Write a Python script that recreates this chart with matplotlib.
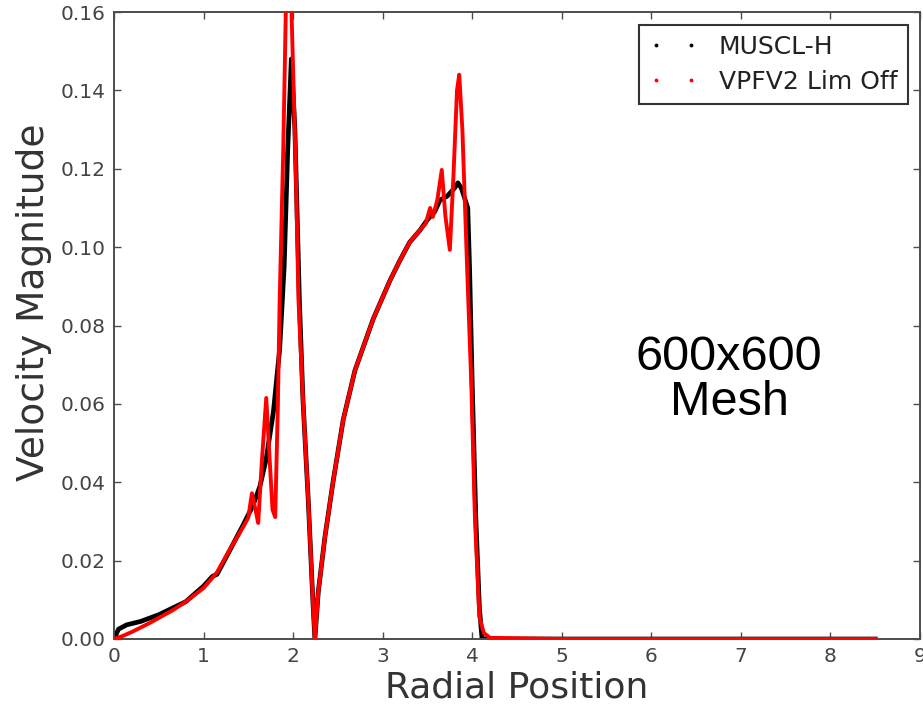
import matplotlib
matplotlib.use("Agg")
import matplotlib.pyplot as plt
from matplotlib.lines import Line2D

# MUSCL-H (black)
muscl_x = [0, 0.05, 0.14, 0.3, 0.5, 0.8, 1.0, 1.1, 1.15, 1.29, 1.44, 1.55, 1.63, 1.70,
           1.78, 1.85, 1.90, 1.94, 1.98, 2.02, 2.07, 2.11, 2.17, 2.22, 2.243, 2.281, 2.355,
           2.448, 2.56, 2.69, 2.895, 3.08, 3.19, 3.30, 3.42, 3.50, 3.58, 3.64, 3.72, 3.80,
           3.84, 3.88, 3.95, 3.97, 4.00, 4.04, 4.08, 4.11, 5.0, 8.5]
muscl_y = [0, 0.0025, 0.0036, 0.0045, 0.0062, 0.0095, 0.0135, 0.016, 0.0165, 0.0225,
           0.029, 0.034, 0.039, 0.046, 0.058, 0.074, 0.095, 0.125, 0.148, 0.13, 0.0865,
           0.061, 0.035, 0.01, 0.0, 0.012, 0.026, 0.0404, 0.056, 0.0685, 0.0817, 0.0914,
           0.0965, 0.1012, 0.1044, 0.107, 0.109, 0.112, 0.113, 0.115, 0.1164, 0.115,
           0.110, 0.095, 0.065, 0.031, 0.008, 0.0, 0.0, 0.0]

# VPFV2 Lim Off (red)
vpfv_x = [0, 0.1, 0.2, 0.4, 0.66, 0.8, 1.0, 1.15, 1.29, 1.44, 1.50, 1.54, 1.58, 1.61,
          1.65, 1.70, 1.74, 1.77, 1.80, 1.83, 1.85, 1.89, 1.92, 1.95, 1.98, 2.03, 2.06,
          2.11, 2.17, 2.22, 2.243, 2.281, 2.355, 2.448, 2.56, 2.69, 2.895, 3.08, 3.19, 3.30,
          3.42, 3.48, 3.53, 3.56, 3.61, 3.66, 3.70, 3.75, 3.79, 3.83, 3.855, 3.89, 3.94,
          3.99, 4.03, 4.08, 4.13, 4.2, 5.0, 8.5]
vpfv_y = [0, 0.0008, 0.0018, 0.0041, 0.0074, 0.0095, 0.013, 0.017, 0.0227, 0.0285, 0.031,
          0.0372, 0.033, 0.0296, 0.045, 0.0615, 0.045, 0.033, 0.0311, 0.06, 0.0865, 0.125,
          0.162, 0.166, 0.162, 0.12, 0.0865, 0.061, 0.035, 0.01, 0.0, 0.012, 0.026, 0.0404,
          0.056, 0.0685, 0.0817, 0.0914, 0.0965, 0.1012, 0.1044, 0.106, 0.110, 0.1077,
          0.112, 0.1197, 0.108, 0.0993, 0.118, 0.14, 0.144, 0.13, 0.0967, 0.065, 0.031,
          0.0056, 0.0015, 0.0003, 0.0, 0.0]

series_labels = ["MUSCL-H", "VPFV2 Lim Off"]
x_ticks = [0, 1, 2, 3, 4, 5, 6, 7, 8, 9]
y_ticks = [0.00, 0.02, 0.04, 0.06, 0.08, 0.10, 0.12, 0.14, 0.16]

fig = plt.figure(figsize=(9.23, 7.07), dpi=100)
ax = fig.add_axes([114 / 923, 1 - 639 / 707, (920 - 114) / 923, (639 - 12) / 707])

ax.plot(muscl_x, muscl_y, color="black", lw=3.4, solid_joinstyle="round", zorder=2)
ax.plot(vpfv_x, vpfv_y, color="red", lw=2.8, solid_joinstyle="round", zorder=3)

ax.set_xlim(0, 9)
ax.set_ylim(0, 0.16)
ax.set_xticks(x_ticks)
ax.set_yticks(y_ticks)
ax.set_xticklabels([str(t) for t in x_ticks])
ax.set_yticklabels(["%.2f" % t for t in y_ticks])

grey = "#4d4d4d"
for s in ax.spines.values():
    s.set_color(grey)
    s.set_linewidth(1.4)
ax.tick_params(direction="in", top=True, right=True, length=5, width=1,
               colors=grey, labelsize=14.5, labelcolor="#444444", pad=6)

ax.set_xlabel("Radial Position", fontsize=26, color="#333333")
ax.xaxis.set_label_coords(0.5, -0.05)
ax.set_ylabel("Velocity Magnitude", fontsize=27, color="#333333")
ax.yaxis.set_label_coords(-0.077, 0.537)

handles = [Line2D([], [], ls="", marker=".", color="black", markersize=3.5),
           Line2D([], [], ls="", marker=".", color="red", markersize=3.5)]
leg = ax.legend(handles, series_labels, loc="upper right", numpoints=2, fontsize=18,
                fancybox=False, framealpha=1, edgecolor="#333333",
                borderaxespad=0.5, handlelength=2.0, borderpad=0.4,
                handletextpad=0.8, labelspacing=0.45)
leg.get_frame().set_linewidth(1.5)
for t in leg.get_texts():
    t.set_color("#222222")

ax.text(729 / 923, 1 - 380 / 707, "600x600\nMesh", transform=fig.transFigure,
        fontsize=35, family="Liberation Sans", ha="center", va="center",
        color="black", linespacing=1.0)

fig.savefig("out.png", dpi=100)
